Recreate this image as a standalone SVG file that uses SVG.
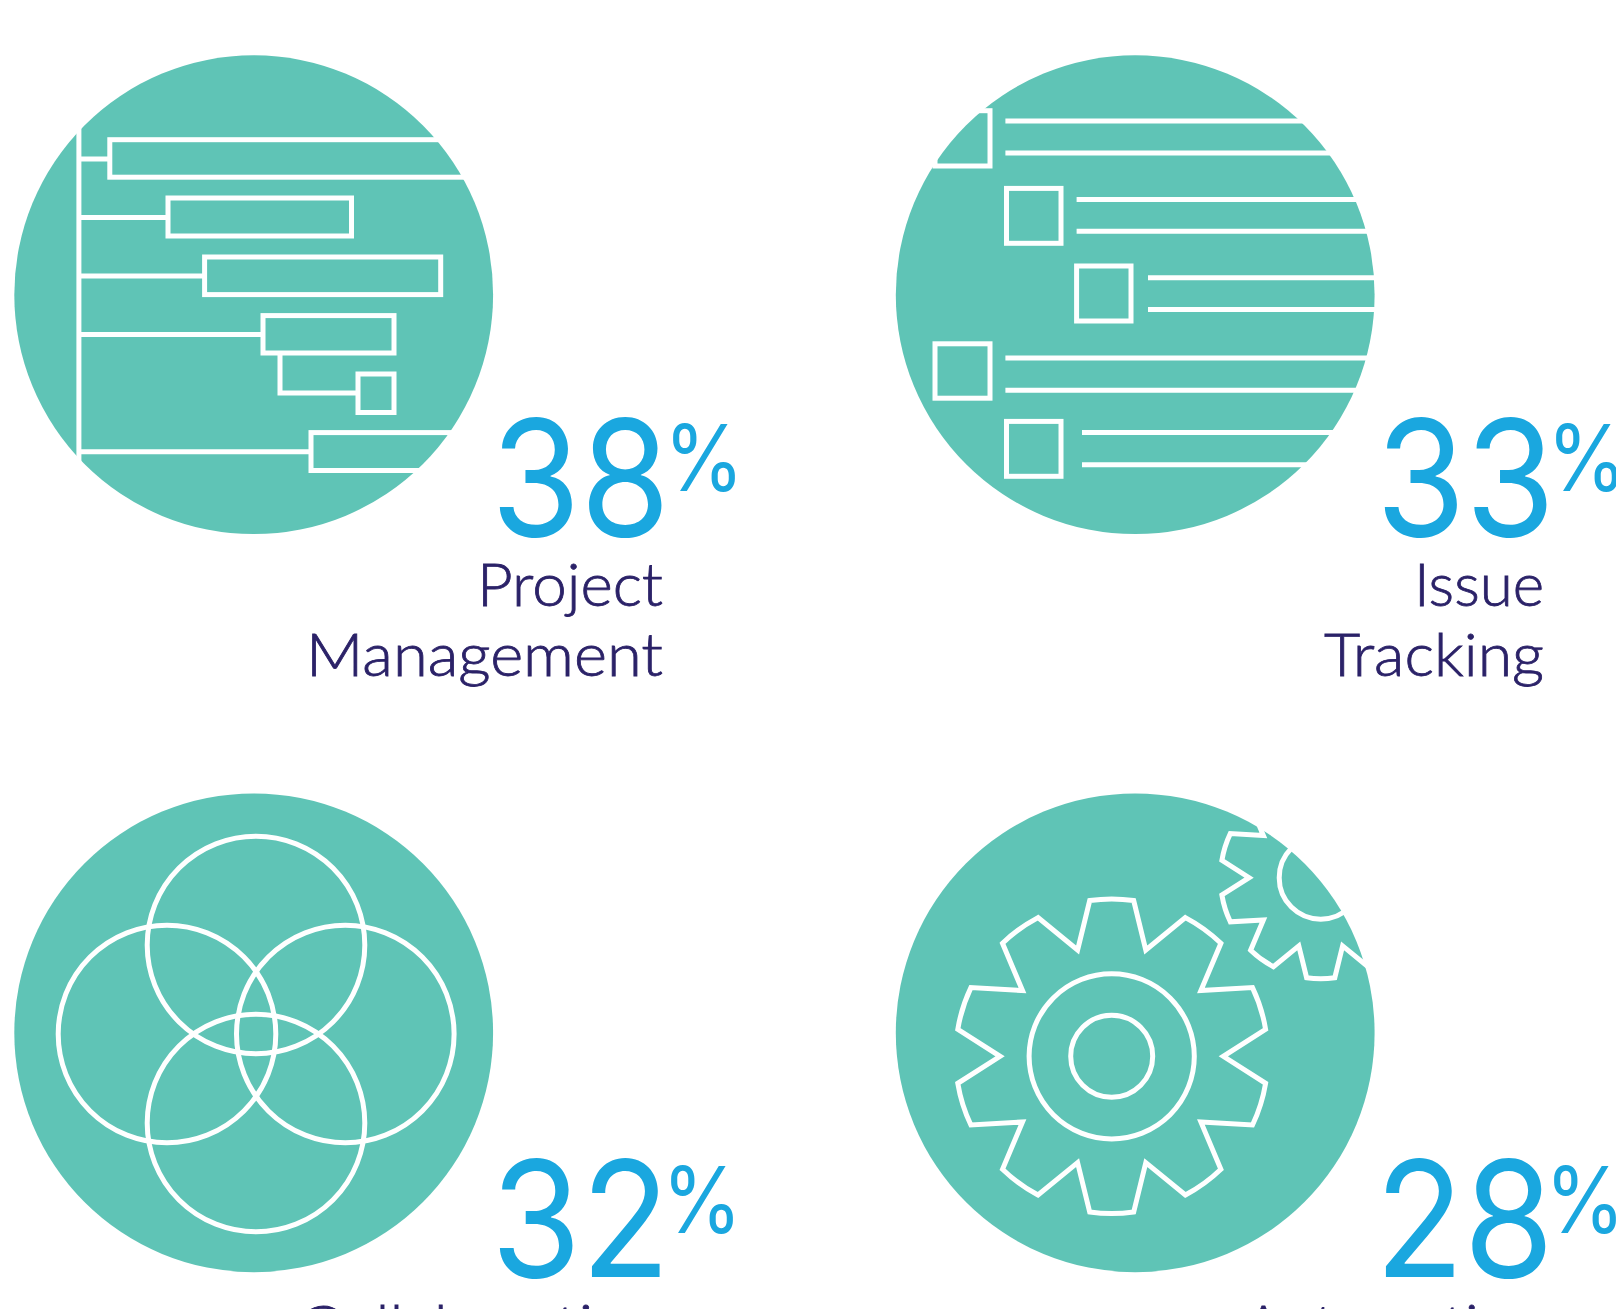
<svg xmlns="http://www.w3.org/2000/svg" width="1616" height="1309" viewBox="0 0 1616 1309">
<style>
.disc{fill:#5fc4b6}
.w{fill:none;stroke:#fff;stroke-width:5;stroke-miterlimit:10}
.n{font-family:"Inter","Liberation Sans",sans-serif;font-weight:400;font-size:162px;fill:#1aa7df}
.p{font-family:"Inter","Liberation Sans",sans-serif;font-weight:400;font-size:92px;fill:#1aa7df}
.l{font-family:"Lato","Liberation Sans",sans-serif;font-weight:300;font-size:59px;fill:#2b2268;stroke:#2b2268;stroke-width:.8}
</style>
<defs>
<path id="gear-big" d="M-22,-155.7A157,157 0 0 1 22,-155.7L34.1,-106.3L73.7,-138.7A157,157 0 0 1 109.2,-113L89.2,-65.7L140.8,-68.7A157,157 0 0 1 153.9,-27L111.6,0L153.9,27A157,157 0 0 1 140.8,68.7L89.2,65.7L109.2,113A157,157 0 0 1 73.7,138.7L34.1,106.3L22,155.7A157,157 0 0 1 -22,155.7L-34.1,106.3L-73.7,138.7A157,157 0 0 1 -109.2,113L-89.2,65.7L-140.8,68.7A157,157 0 0 1 -153.9,27L-111.6,0L-153.9,-27A157,157 0 0 1 -140.8,-68.7L-89.2,-65.7L-109.2,-113A157,157 0 0 1 -73.7,-138.7L-34.1,-106.3Z"/>
<path id="gear-small" d="M-14.1,-100A100.8,100.8 0 0 1 14.1,-100L21.9,-68.2L47.3,-89A100.8,100.8 0 0 1 70.1,-72.5L57.3,-42.2L90.4,-44.1A100.8,100.8 0 0 1 98.8,-17.3L71.6,0L98.8,17.3A100.8,100.8 0 0 1 90.4,44.1L57.3,42.2L70.1,72.5A100.8,100.8 0 0 1 47.3,89L21.9,68.2L14.1,100A100.8,100.8 0 0 1 -14.1,100L-21.9,68.2L-47.3,89A100.8,100.8 0 0 1 -70.1,72.5L-57.3,42.2L-90.4,44.1A100.8,100.8 0 0 1 -98.8,17.3L-71.6,0L-98.8,-17.3A100.8,100.8 0 0 1 -90.4,-44.1L-57.3,-42.2L-70.1,-72.5A100.8,100.8 0 0 1 -47.3,-89L-21.9,-68.2Z"/>
</defs>

<g id="project-management">
<circle class="disc" cx="253.7" cy="294.7" r="239.4"/>
<path class="w" d="M78.9,125V462M78.9,159H110M78.9,217.4H168M78.9,276H204.6M78.9,334.4H263M78.9,451.8H311M280,353V393H358"/>
<rect class="w" x="109.8" y="139.7" width="400" height="37.5"/>
<rect class="w" x="168" y="198" width="183.5" height="38"/>
<rect class="w" x="204.6" y="257" width="236.1" height="37.6"/>
<rect class="w" x="263" y="315.6" width="131" height="37.4"/>
<rect class="w" x="358" y="374" width="36" height="38.5"/>
<rect class="w" x="311" y="432.6" width="240" height="37.9"/>
<text class="n" x="491" y="536" textLength="179" lengthAdjust="spacingAndGlyphs">38</text>
<text class="p" x="664" y="491" textLength="80" lengthAdjust="spacingAndGlyphs">%</text>
<text class="l" x="477" y="606" textLength="186" lengthAdjust="spacingAndGlyphs">Project</text>
<text class="l" x="306" y="675.5" textLength="357" lengthAdjust="spacingAndGlyphs">Management</text>
</g>

<g id="issue-tracking">
<circle class="disc" cx="1135.2" cy="294.7" r="239.4"/>
<rect class="w" x="935" y="110.7" width="55" height="55.3"/>
<rect class="w" x="1006.5" y="188.4" width="54.5" height="54.9"/>
<rect class="w" x="1076.6" y="266" width="54.4" height="55"/>
<rect class="w" x="935" y="343.8" width="55" height="54.4"/>
<rect class="w" x="1006.5" y="421.4" width="54.5" height="54.9"/>
<path class="w" d="M1005.4,121H1400M1005.4,153H1400M1076.6,199.6H1400M1076.6,231.3H1400M1148,277.7H1400M1148,309.4H1400M1005.4,358H1400M1005.4,390.2H1400M1082,432.6H1400M1082,464.7H1400"/>
<text class="n" x="1376" y="536" textLength="179" lengthAdjust="spacingAndGlyphs">33</text>
<text class="p" x="1547" y="491" textLength="80" lengthAdjust="spacingAndGlyphs">%</text>
<text class="l" x="1414" y="606" textLength="130" lengthAdjust="spacingAndGlyphs">Issue</text>
<text class="l" x="1324" y="675.5" textLength="220" lengthAdjust="spacingAndGlyphs">Tracking</text>
</g>

<g id="collaboration">
<circle class="disc" cx="253.7" cy="1032.8" r="239.4"/>
<circle class="w" cx="167" cy="1034" r="108.8"/>
<circle class="w" cx="345.3" cy="1034" r="108.8"/>
<circle class="w" cx="256" cy="945" r="108.8"/>
<circle class="w" cx="256" cy="1123" r="108.8"/>
<text class="n" x="491" y="1277" textLength="179" lengthAdjust="spacingAndGlyphs">32</text>
<text class="p" x="662" y="1233" textLength="80" lengthAdjust="spacingAndGlyphs">%</text>
<text class="l" x="298" y="1347.5" textLength="365" lengthAdjust="spacingAndGlyphs">Collaboration</text>
</g>

<g id="automation">
<circle class="disc" cx="1135.2" cy="1032.8" r="239.4"/>
<g transform="translate(1111.7,1056.3)">
<use href="#gear-big" class="w"/>
<circle class="w" r="82.6"/>
<circle class="w" r="41"/>
</g>
<g transform="translate(1320.7,877.7)">
<use href="#gear-small" class="w"/>
<circle class="w" r="41.5"/>
</g>
<text class="n" x="1375" y="1277" textLength="179" lengthAdjust="spacingAndGlyphs">28</text>
<text class="p" x="1545" y="1233" textLength="80" lengthAdjust="spacingAndGlyphs">%</text>
<text class="l" x="1244" y="1347.5" textLength="300" lengthAdjust="spacingAndGlyphs">Automation</text>
</g>
</svg>
